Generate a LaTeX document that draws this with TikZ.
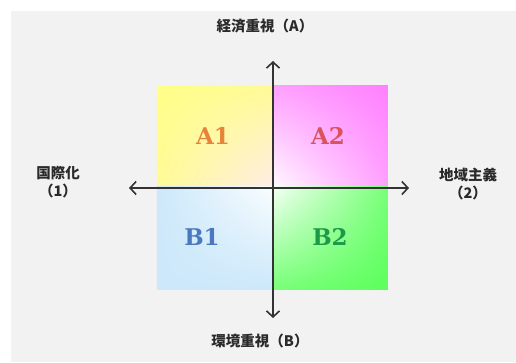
\documentclass[tikz,border=0pt]{standalone}
\usepackage{fontspec}
\usepackage{xcolor}
\usetikzlibrary{arrows.meta, positioning, shadings}
\newfontfamily\cjk{Noto Sans CJK JP}
\newfontfamily\quadfont{DejaVu Serif}

\definecolor{bggrey}{HTML}{F2F2F2}
\definecolor{axisgrey}{HTML}{333333}
\definecolor{textgrey}{HTML}{2A2A2A}
\definecolor{aoneorange}{HTML}{E8843A}
\definecolor{atwored}{HTML}{D9525E}
\definecolor{boneblue}{HTML}{4A78BE}
\definecolor{btwogreen}{HTML}{1C9A48}
% quadrant corner colours
\definecolor{yellowA}{HTML}{FFFF88}
\definecolor{yellowB}{HTML}{FFFA96}
\definecolor{pinkC}{HTML}{FFECE8}
\definecolor{magentaA}{HTML}{FFA0FF}
\definecolor{magentaB}{HTML}{FF80FF}
\definecolor{magentaC}{HTML}{FFFAFF}
\definecolor{blueA}{HTML}{CCE8FA}
\definecolor{blueC}{HTML}{FAFDFF}
\definecolor{greenA}{HTML}{78FF78}
\definecolor{greenB}{HTML}{5CFF5C}
\definecolor{greenC}{HTML}{F5FFF5}

\begin{document}
\begin{tikzpicture}[
        x=1pt, y=-1pt,
        quad/.style={
            rectangle,
            minimum width=115.5pt,
            minimum height=103pt,
            inner sep=0pt,
            draw=none
        },
        quadlabel/.style={
            font=\quadfont\bfseries\fontsize{23}{25}\selectfont
        },
        axislabel/.style={
            font=\cjk\bfseries\fontsize{14.5}{16}\selectfont,
            text=textgrey,
            inner sep=0pt
        },
        axis/.style={{Straight Barb[length=6pt,width=13pt]}-{Straight Barb[length=6pt,width=13pt]},
            line width=1.6pt, draw=axisgrey}
    ]

    % background
    \fill[white] (0,0) rectangle (516,362);
    \fill[bggrey] (11,11) rectangle (516,362);
    \useasboundingbox (0,0) rectangle (516,362);

    % quadrants
    \node (qaone) [quad, upper left=yellowA, upper right=yellowB,
        lower left=yellowB, lower right=pinkC] at (214.5,136.5) {};
    \node (qatwo) [quad, upper left=magentaA, upper right=magentaB,
        lower left=magentaC, lower right=magentaA] at (330,136.5) {};
    \node (qbone) [quad, upper left=blueA, upper right=blueC,
        lower left=blueA, lower right=blueA] at (214.5,238) {};
    \node (qbtwo) [quad, upper left=greenC, upper right=greenA,
        lower left=greenA, lower right=greenB] at (330,238) {};

    \node (aone) [quadlabel, text=aoneorange] at (213,136) {A1};
    \node (atwo) [quadlabel, text=atwored] at (328,136) {A2};
    \node (bone) [quadlabel, text=boneblue] at (202,237) {B1};
    \node (btwo) [quadlabel, text=btwogreen] at (330,237) {B2};

    % axes
    \coordinate (ytop) at (273,61);
    \coordinate (ybot) at (273,318);
    \coordinate (xleft) at (129,188);
    \coordinate (xright) at (409,188);
    \draw [axis] (ybot) -- (ytop);
    \draw [axis] (xleft) -- (xright);

    % axis labels
    \node (econ) [axislabel] at (265,26) {経済重視（A）};
    \node (envi) [axislabel] at (260,341) {環境重視（B）};
    \node (intl) [axislabel] at (58,173) {国際化};
    \node (intlnum) [axislabel, below=4pt of intl] {（1）};
    \node (local) [axislabel] at (468,175) {地域主義};
    \node (localnum) [axislabel, below=4pt of local] {（2）};

\end{tikzpicture}
\end{document}
